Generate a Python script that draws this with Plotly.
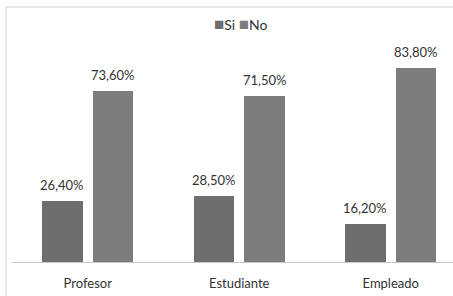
import plotly.graph_objects as go

categories = ["Profesor", "Estudiante", "Empleado"]
si_values = [26.4, 28.5, 16.2]
no_values = [73.6, 71.5, 83.8]
series_names = ["Si", "No"]
colors = ["#6e6e6e", "#7d7d7d"]

offset = 0.167
bar_w = 0.267
idx = list(range(len(categories)))

fig = go.Figure()
for k, (name, vals, col) in enumerate(zip(series_names, [si_values, no_values], colors)):
    sign = -1 if k == 0 else 1
    xs = [i + sign * offset for i in idx]
    fig.add_trace(go.Bar(x=xs, y=vals, width=bar_w, name=name,
                         marker=dict(color=col, line=dict(width=0)),
                         showlegend=False, hoverinfo="skip"))
    for x, v in zip(xs, vals):
        fig.add_annotation(x=x, y=v, xref="x", yref="y",
                           text=f"{v:.2f}".replace(".", ",") + "%",
                           showarrow=False, yanchor="bottom", yshift=6,
                           font=dict(family="Lato", size=13, color="#333333"))

# legend (as text)
fig.add_annotation(
    x=0.52, y=(296 - 23 - 34) / 232, xref="paper", yref="paper", yanchor="middle", xanchor="center",
    text=(f"<span style='color:{colors[0]};font-size:17px'>■</span>{series_names[0]} "
          f"<span style='color:{colors[1]};font-size:17px'>■</span>{series_names[1]}"),
    showarrow=False, font=dict(family="Lato", size=14, color="#333333"))

fig.update_layout(
    width=453, height=296,
    margin=dict(l=12, r=0, t=30, b=34, autoexpand=False),
    paper_bgcolor="white", plot_bgcolor="white",
    bargap=0,
    xaxis=dict(range=[-0.5, 2.411], tickvals=idx, ticktext=categories, automargin=False,
               showgrid=False, zeroline=False, showline=True, linecolor="#c8c8c8",
               linewidth=1, ticks="", ticklabelstandoff=9,
               tickfont=dict(family="Lato", size=13, color="#333333"),
               fixedrange=True),
    yaxis=dict(range=[0, 100], visible=False, fixedrange=True, automargin=False),
    shapes=[
        dict(type="line", xref="paper", yref="paper", x0=-6/441, x1=-6/441, y0=-1, y1=(289-34)/232, line=dict(color="#d0d0d0", width=1)),
        dict(type="line", xref="paper", yref="paper", x0=-6/441, x1=1.1, y0=(289-34)/232, y1=(289-34)/232, line=dict(color="#d0d0d0", width=1)),
    ],
)
fig.write_html("out.html", config={"displayModeBar": False},
               post_script="document.body.style.margin='0';")
